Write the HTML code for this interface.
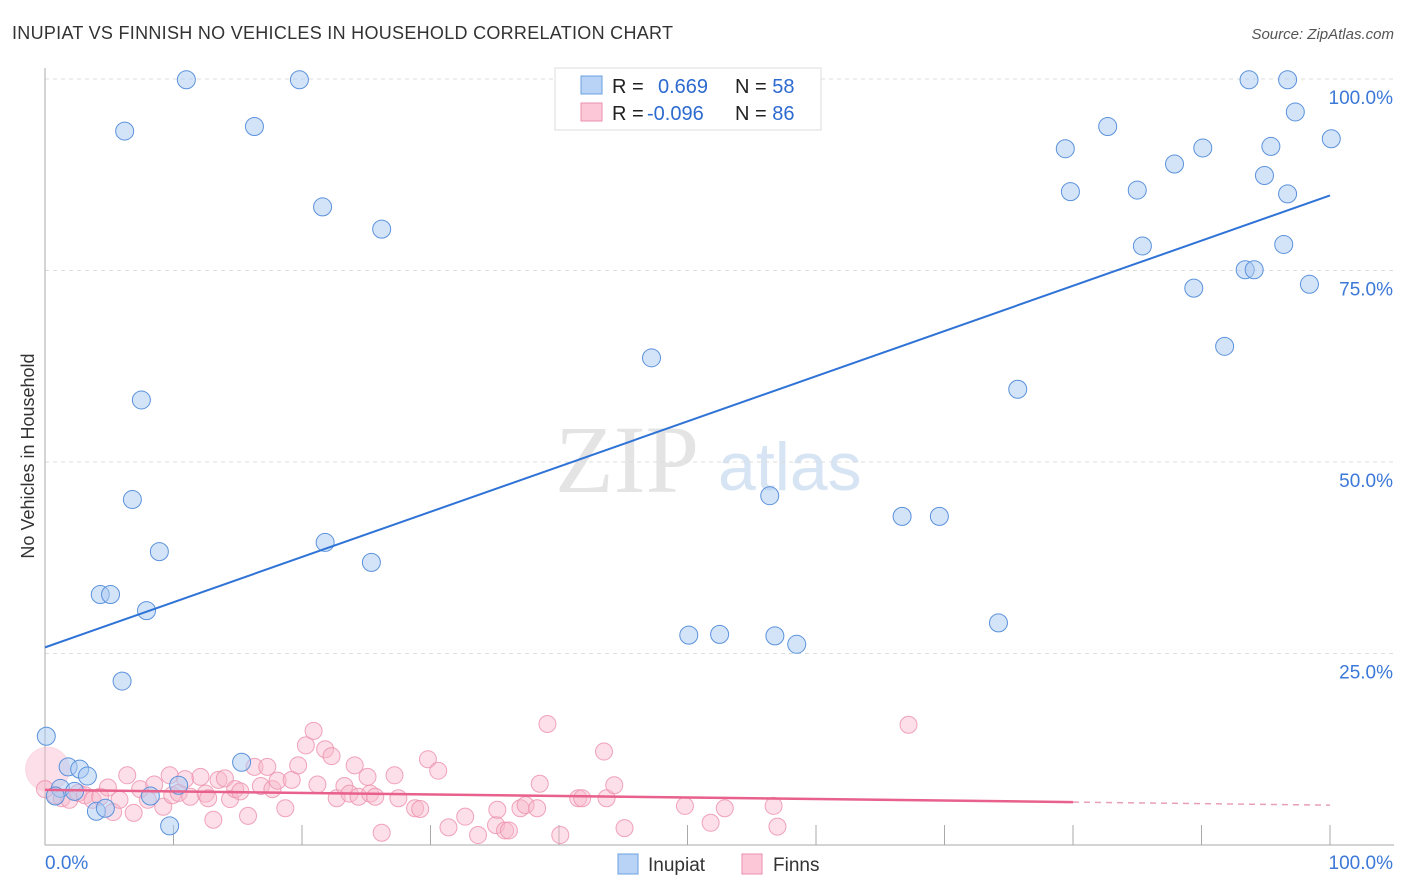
<!DOCTYPE html>
<html><head><meta charset="utf-8">
<style>
body{margin:0;background:#fff;font-family:"Liberation Sans",sans-serif;}
svg{display:block}
</style></head>
<body>
<svg id="chart" width="1406" height="892" xmlns="http://www.w3.org/2000/svg">
<text x="12" y="39" font-size="18" fill="#333" textLength="661">INUPIAT VS FINNISH NO VEHICLES IN HOUSEHOLD CORRELATION CHART</text>
<text x="1394" y="39" font-size="15" fill="#555" text-anchor="end" font-style="italic">Source: ZipAtlas.com</text>
<text x="555" y="492" font-size="96" fill="#e4e4e4" font-family="Liberation Serif,serif">ZIP</text>
<text x="718" y="490" font-size="68" fill="#d6e4f4">atlas</text>
<text x="34" y="456" font-size="18" fill="#333" text-anchor="middle" transform="rotate(-90 34 456)">No Vehicles in Household</text>
<g id="grid"></g>
<g id="marks"></g>
<g>
<rect x="555" y="68" width="266" height="62" fill="#fff" stroke="#ddd"/>
<rect x="581" y="76" width="21" height="18" fill="#b8d3f5" stroke="#6a9fe0"/>
<rect x="581" y="103" width="21" height="18" fill="#fcc8d8" stroke="#ec8fac"/>
<text x="612" y="93" font-size="20" fill="#222">R = <tspan x="658" fill="#2d6bd0">0.669</tspan><tspan x="735" fill="#222">N = </tspan><tspan fill="#2d6bd0">58</tspan></text>
<text x="612" y="120" font-size="20" fill="#222">R = <tspan x="647" fill="#2d6bd0">-0.096</tspan><tspan x="735" fill="#222">N = </tspan><tspan fill="#2d6bd0">86</tspan></text>
</g>
<g>
<rect x="618" y="854" width="20" height="20" fill="#b8d3f5" stroke="#6a9fe0"/>
<text x="648" y="871" font-size="19" fill="#333">Inupiat</text>
<rect x="742" y="854" width="20" height="20" fill="#fcc8d8" stroke="#ec8fac"/>
<text x="773" y="871" font-size="19" fill="#333">Finns</text>
</g>
</svg>
<script>
const yTicks=[25,50,75,100];
const yTickLabels=["25.0%","50.0%","75.0%","100.0%"];
const xTickVals=[0,10,20,30,40,50,60,70,80,90,100];
const xEndLabels=["0.0%","100.0%"];
const inupiatX=[11,19.8,6.2,16.3,21.6,26.2,7.5,6.8,8.9,4.3,5.1,7.9,6,0.1,1.8,2.7,3.3,1.2,2.3,4,4.7,8.2,9.7,10.4,15.3,21.8,25.4,47.2,56.4,50.1,52.5,56.8,58.5,66.7,69.6,74.2,75.7,79.4,79.8,82.7,85,85.4,87.9,89.4,90.1,91.8,93.4,94.1,93.7,94.9,95.4,96.7,96.4,96.7,97.3,98.4,100.1,0.8];
const inupiatY=[99.9,99.9,93.2,93.8,83.3,80.4,58.1,45.1,38.3,32.7,32.7,30.6,21.4,14.2,10.2,9.9,9,7.4,7,4.4,4.8,6.4,2.5,7.8,10.8,39.5,36.9,63.6,45.6,27.4,27.5,27.3,26.2,42.9,42.9,29,59.5,90.9,85.3,93.8,85.5,78.2,88.9,72.7,91,65.1,75.1,75.1,99.9,87.4,91.2,85,78.4,99.9,95.7,73.2,92.2,6.4];
const finnsX=[0.2,0.8,1.3,1.9,2.6,3.1,3.7,4.3,4.9,5.3,5.8,6.4,6.9,7.4,8,8.5,9.2,9.7,9.9,10.4,10.9,11.3,12.1,12.5,12.7,13.1,13.5,14,14.4,14.8,15.2,15.8,16.3,16.8,17.3,17.7,18.1,18.7,19.2,19.7,20.3,20.9,21.2,21.8,22.3,22.7,23.3,23.7,24.1,24.4,25.1,25.3,25.7,26.2,27.2,27.5,28.8,29.2,29.8,30.6,31.4,32.7,33.7,35.1,35.2,35.8,36.1,37,37.4,38.3,38.5,39.1,40.1,41.5,41.8,43.5,43.7,44.3,45.1,49.8,51.8,52.9,56.7,57,67.2,0];
const finnsY=[9.9,6.5,6.1,5.9,6.8,6.5,5.9,6.3,7.5,4.3,5.9,9.1,4.2,7.3,5.9,7.9,5,9.1,6.5,6.8,8.6,6.3,8.9,6.7,6.1,3.3,8.5,8.7,6,7.3,7,3.8,10.2,7.7,10.2,7.3,8.4,4.8,8.5,10.4,13,14.9,7.9,12.5,11.6,6.1,7.7,6.7,10.4,6.3,8.9,6.7,6.3,1.6,9.1,6.1,4.8,4.7,11.2,9.7,2.3,3.7,1.3,2.6,4.6,1.9,1.9,4.8,5.2,4.8,8,15.8,1.3,6.1,6.1,12.2,6.1,7.8,2.2,5.1,2.9,4.8,5.1,2.4,15.7,7.3];
const blueTrend=[25.8,84.8];
const pinkTrend=[7.2,5.2];
const pinkSolidEnd=80;

const X0=45,X1=1330,Y0=845,Y100=79;
const xs=v=>X0+(X1-X0)*v/100;
const ys=v=>Y0-(Y0-Y100)*v/100;
const NS="http://www.w3.org/2000/svg";
function mk(tag,attrs,parent){const e=document.createElementNS(NS,tag);for(const k in attrs)e.setAttribute(k,attrs[k]);parent.appendChild(e);return e;}
const grid=document.getElementById('grid'),marks=document.getElementById('marks');
yTicks.forEach((t,i)=>{
  const l=mk('line',{x1:X0,x2:1394,y1:ys(t),y2:ys(t),stroke:'#ddd','stroke-dasharray':'4,4'},grid);
  
  
  const tx=mk('text',{x:1393,y:ys(t)+25,'font-size':19,fill:'#3b78d8','text-anchor':'end'},grid);
  tx.textContent=yTickLabels[i];
  
  
});
const ax=mk('line',{x1:X0,x2:1394,y1:Y0,y2:Y0,stroke:'#aaa'},grid);


const ay=mk('line',{x1:X0,x2:X0,y1:68,y2:Y0,stroke:'#aaa'},grid);


xTickVals.forEach(v=>{
  const l=mk('line',{x1:xs(v),x2:xs(v),y1:Y0,y2:Y0-20,stroke:'#aaa'},grid);
  
  
});
[[0,'start',45],[100,'end',1393]].forEach((a,i)=>{
  const t=mk('text',{x:a[2],y:869,'font-size':19,fill:'#3b78d8','text-anchor':a[1]},grid);
  t.textContent=xEndLabels[i];
  
  
});
finnsX.forEach((x,i)=>{
  const big=i===0;
  const c=mk('circle',{cx:xs(x),cy:ys(finnsY[i]),r:big?22:8.5,fill:'#f9b9cc','fill-opacity':0.45,stroke:'#ec8fac','stroke-opacity':big?0.2:0.8,'stroke-width':1},marks);
  
  
});
inupiatX.forEach((x,i)=>{
  const c=mk('circle',{cx:xs(x),cy:ys(inupiatY[i]),r:9,fill:'#a9c9f2','fill-opacity':0.5,stroke:'#5b92dc','stroke-width':1},marks);
  
  
});
const bl=mk('line',{x1:xs(0),y1:ys(blueTrend[0]),x2:xs(100),y2:ys(blueTrend[1]),stroke:'#2f73d6','stroke-width':2},marks);


const pAt=x=>pinkTrend[0]+(pinkTrend[1]-pinkTrend[0])*x/100;
const pl=mk('line',{x1:xs(0),y1:ys(pAt(0)),x2:xs(pinkSolidEnd),y2:ys(pAt(pinkSolidEnd)),stroke:'#e8608c','stroke-width':2.5},marks);


const pd=mk('line',{x1:xs(pinkSolidEnd),y1:ys(pAt(pinkSolidEnd)),x2:xs(100),y2:ys(pAt(100)),stroke:'#e8a0b8','stroke-width':1.5,'stroke-dasharray':'6,5'},marks);


</script>
</body></html>
